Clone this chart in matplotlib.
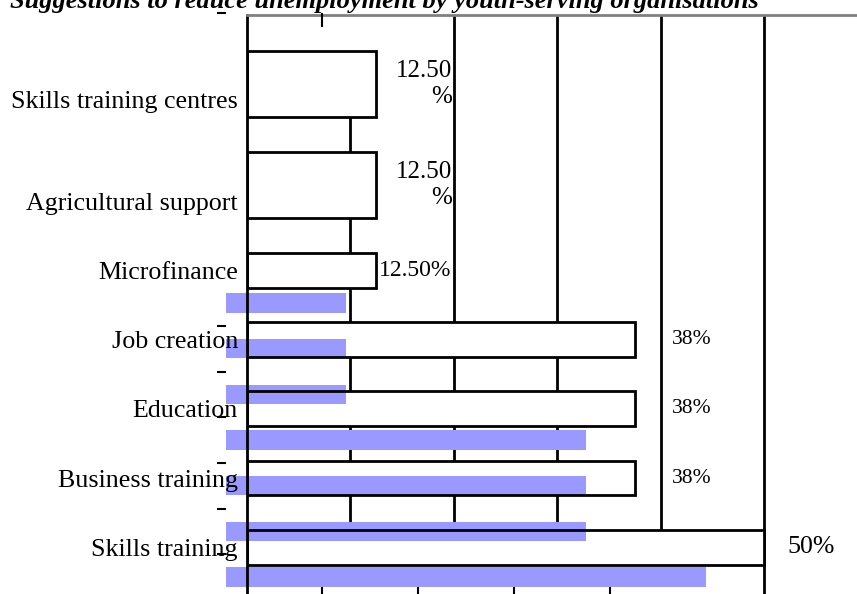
import matplotlib
matplotlib.use("Agg")
import matplotlib.pyplot as plt

title = "Suggestions to reduce unemployment by youth-serving organisations"
categories = [
    "Skills training centres",
    "Agricultural support",
    "Microfinance",
    "Job creation",
    "Education",
    "Business training",
    "Skills training",
]
values = [12.5, 12.5, 12.5, 37.5, 37.5, 37.5, 50.0]
value_labels = ["12.50\n%", "12.50\n%", "12.50%", "38%", "38%", "38%", "50%"]
grid_x = [10, 20, 30, 40]

# layout (pixel geometry of the reference)
W, H = 857, 594
SERIF = "Liberation Serif"

# main chart rows (in row units)
bar_rows = [0, 1.46, 2.69, 3.69, 4.69, 5.69, 6.69]
bar_heights = [0.95, 0.95, 0.5, 0.5, 0.5, 0.5, 0.5]
label_rows = [0.23, 1.70, 2.69, 3.69, 4.69, 5.69, 6.69]
label_x = [19.8, 19.8, 19.8, 41.1, 41.1, 41.1, 52.3]
label_ha = ["right", "right", "right", "left", "left", "left", "left"]
label_size = [18, 18, 17, 15.5, 15.5, 15.5, 18.6]
main_xlim = (0, 58.99)
main_ylim = (7.365, -0.996)
grid_start = [bar_rows[0], main_ylim[1], main_ylim[1], main_ylim[1]]

# ghost (offset) series
ghost_xlim = (0, 50)
ghost_ylim = (6.372, -6.35)


def fx(px):
    return px / W


def fy(py):
    return 1 - py / H


def main() -> None:
    fig = plt.figure(figsize=(W / 100, H / 100), dpi=100)
    rect_main = [fx(247), fy(594), fx(857) - fx(247), fy(15) - fy(594)]
    rect_ghost = [fx(226), fy(594), fx(706) - fx(226), fy(13) - fy(594)]

    # bottom layer: gridlines, white fills, value labels
    ax = fig.add_axes(rect_main, zorder=1)
    ax.set_xlim(*main_xlim)
    ax.set_ylim(*main_ylim)
    ax.vlines(grid_x, grid_start, bar_rows[-1], color="black", lw=2, zorder=0)
    ax.axvline(50, color="black", lw=2, zorder=0)
    ax.barh(bar_rows, values, height=bar_heights, color="white", zorder=1)
    ax.set_xticks([])
    ax.set_yticks([])
    for s in ax.spines.values():
        s.set_visible(False)
    for i, txt in enumerate(value_labels):
        ax.text(label_x[i], bar_rows[i], txt, ha=label_ha[i], va="center",
                family=SERIF, fontsize=label_size[i], linespacing=1.22,
                multialignment="right")

    # blue series, drawn on its own shifted scale
    ax2 = fig.add_axes(rect_ghost, zorder=2)
    ax2.patch.set_visible(False)
    ax2.set_xlim(*ghost_xlim)
    ax2.set_ylim(*ghost_ylim)
    ax2.barh(range(len(values)), values, height=0.42, color="#9999FF")
    ax2.set_axis_off()

    # bar outlines, axis lines and category labels
    ax3 = fig.add_axes(rect_main, zorder=3)
    ax3.patch.set_visible(False)
    ax3.set_xlim(*main_xlim)
    ax3.set_ylim(*main_ylim)
    ax3.barh(bar_rows, values, height=bar_heights, fill=False,
             edgecolor="black", lw=2)
    ax3.set_xticks([])
    ax3.set_yticks(label_rows)
    ax3.set_yticklabels(categories, family=SERIF, fontsize=18.7)
    ax3.tick_params(axis="y", length=0, pad=6.5)
    ax3.spines["right"].set_visible(False)
    ax3.spines["bottom"].set_visible(False)
    ax3.spines["left"].set_color("black")
    ax3.spines["left"].set_linewidth(2)
    ax3.spines["top"].set_color("#808080")
    ax3.spines["top"].set_linewidth(2)

    # ticks of the shifted scale, on top of everything
    ax4 = fig.add_axes(rect_ghost, zorder=4)
    ax4.patch.set_visible(False)
    ax4.set_xlim(*ghost_xlim)
    ax4.set_ylim(*ghost_ylim)
    for s in ax4.spines.values():
        s.set_visible(False)
    ax4.set_yticks([ghost_ylim[1]] + [i + 0.5 for i in range(len(values) - 1)])
    ax4.set_yticklabels([])
    ax4.tick_params(axis="y", direction="out", length=6.5, width=1.5, color="black")
    ax4.set_xticks(grid_x)
    ax4.set_xticklabels([])
    ax4.tick_params(axis="x", direction="in", length=5, width=1.5, color="black")
    top = ax4.secondary_xaxis("top")
    top.set_xticks([10])
    top.set_xticklabels([])
    top.tick_params(direction="in", length=10, width=1.5, color="black")
    top.spines["top"].set_visible(False)

    fig.text(fx(10), fy(8), title, family=SERIF, fontsize=19,
             fontweight="bold", fontstyle="italic", va="baseline")

    fig.savefig("out.png", dpi=100)


if __name__ == "__main__":
    main()
